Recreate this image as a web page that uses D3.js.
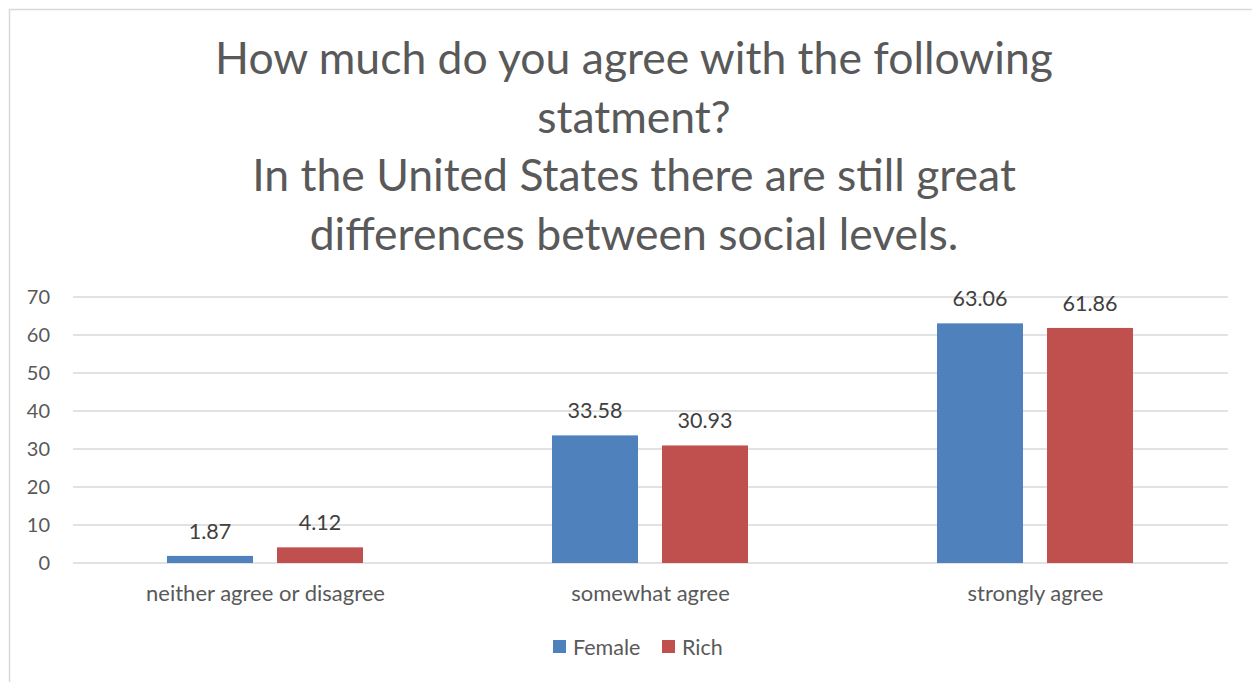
<!DOCTYPE html>
<html><head><meta charset="utf-8">
<script src="https://cdn.jsdelivr.net/npm/d3@7"></script>
<style>body{margin:0;background:#fff;}svg{display:block;font-family:Lato, "Liberation Sans", sans-serif;}</style>
</head><body>
<svg id="chart" width="1252" height="682"></svg>
<script>
const categories = ["neither agree or disagree", "somewhat agree", "strongly agree"];
const seriesNames = ["Female", "Rich"];
const femaleValues = [1.87, 33.58, 63.06];
const richValues = [4.12, 30.93, 61.86];
const yTicks = [0, 10, 20, 30, 40, 50, 60, 70];
const titleLines = ["How much do you agree with the following", "statment?", "In the United States there are still great", "differences between social levels."];
const colors = ["#4F81BD", "#C0504D"];

(function () {
const svg = d3.select("#chart");
svg.append("rect").attr("x", 9.5).attr("y", 9.5).attr("width", 1260).attr("height", 700)
  .attr("fill", "#fff").attr("stroke", "#D9D9D9").attr("stroke-width", 1.5);

const pl = 73, pr = 1228, pt = 297, pb = 563;
const x = d3.scaleBand().domain(categories).range([pl, pr]).paddingInner(0).paddingOuter(0);
const y = d3.scaleLinear().domain([0, 70]).range([pb, pt]);
const xs = d3.scaleBand().domain(seriesNames).range([94, 385 - 95]).paddingInner(24 / 110);

// title
const title = svg.append("text").attr("text-anchor", "middle").attr("fill", "#595959").attr("font-size", 44.5);
titleLines.forEach((t, i) => {
  title.append("tspan").attr("x", 634).attr("y", 74 + i * 58.5).text(t);
});

// gridlines
svg.append("g").selectAll("line").data(yTicks).join("line")
  .attr("x1", pl).attr("x2", pr).attr("y1", d => y(d)).attr("y2", d => y(d))
  .attr("stroke", "#D9D9D9").attr("stroke-width", 1.5);

// y axis labels
const yAxis = d3.axisLeft(y).tickValues(yTicks).tickSize(0).tickPadding(23);
const ya = svg.append("g").attr("transform", `translate(${pl},0)`).call(yAxis);
ya.select(".domain").remove();
ya.selectAll("text").attr("font-size", 20).attr("fill", "#595959").attr("font-family", "Lato, sans-serif");

// x axis labels
const xAxis = d3.axisBottom(x).tickSize(0).tickPadding(22);
const xa = svg.append("g").attr("transform", `translate(0,${pb})`).call(xAxis);
xa.select(".domain").remove();
xa.selectAll("text").attr("font-size", 22).attr("fill", "#595959").attr("font-family", "Lato, sans-serif");

const data = categories.map((c, i) => ({cat: c, vals: [femaleValues[i], richValues[i]]}));
const groups = svg.append("g").selectAll("g").data(data).join("g")
  .attr("transform", d => `translate(${x(d.cat)},0)`);
groups.selectAll("rect").data(d => d.vals.map((v, j) => ({s: seriesNames[j], v, j}))).join("rect")
  .attr("x", d => xs(d.s)).attr("width", xs.bandwidth())
  .attr("y", d => y(d.v)).attr("height", d => y(0) - y(d.v))
  .attr("fill", d => colors[d.j]);
groups.selectAll("text").data(d => d.vals.map((v, j) => ({s: seriesNames[j], v, j}))).join("text")
  .attr("x", d => xs(d.s) + xs.bandwidth() / 2).attr("y", d => y(d.v) - 17)
  .attr("text-anchor", "middle").attr("font-size", 21.5).attr("fill", "#404040")
  .text(d => d3.format(".2f")(d.v));

// legend
const legend = svg.append("g").attr("transform", "translate(553,640)");
const li = legend.selectAll("g").data(seriesNames).join("g")
  .attr("transform", (d, i) => `translate(${i * 109},0)`);
li.append("rect").attr("width", 13).attr("height", 13).attr("fill", (d, i) => colors[i]);
li.append("text").attr("x", 20).attr("y", 14.5).attr("font-size", 21.5).attr("fill", "#595959").text(d => d);
})();
</script>
</body></html>
